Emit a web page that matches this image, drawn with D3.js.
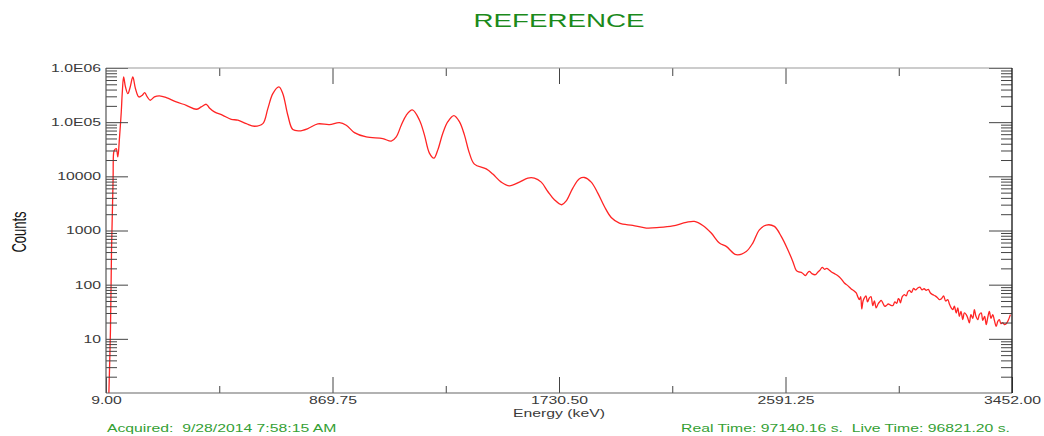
<!DOCTYPE html>
<html>
<head>
<meta charset="utf-8">
<script src="https://cdn.jsdelivr.net/npm/d3@7/dist/d3.min.js"></script>
<style>
  html, body { margin: 0; padding: 0; background: #fff; }
  svg { display: block; font-family: "Liberation Sans", Arial, sans-serif; }
</style>
</head>
<body>
<svg id="chart" width="1044" height="436"></svg>
<script>
// Gamma spectrum: energy (keV) vs counts per channel
const energyKeV = [20, 26, 30, 34, 36, 38, 41, 48, 54, 60, 67, 71, 76, 83, 92, 101, 111, 121, 134, 147,
  156, 166, 177, 193, 212, 238, 276, 314, 352, 371, 390, 402, 421, 453, 485, 510, 542, 573, 605, 624,
  643, 666, 681, 700, 719, 744, 776, 814, 858, 896, 922, 953, 998, 1061, 1093, 1112, 1131, 1150, 1173, 1200,
  1219, 1238, 1255, 1270, 1289, 1308, 1331, 1352, 1371, 1390, 1409, 1454, 1479, 1511, 1542, 1580, 1612, 1637, 1663, 1688,
  1713, 1741, 1758, 1783, 1808, 1827, 1853, 1878, 1903, 1929, 1960, 2011, 2062, 2112, 2163, 2214, 2245, 2277, 2309, 2340,
  2366, 2404, 2442, 2467, 2492, 2518, 2549, 2575, 2600, 2619, 2632,
  2642, 2651, 2659, 2667, 2675, 2682, 2693, 2705, 2714, 2722, 2731, 2740, 2748, 2756, 2766, 2777, 2785, 2796, 2805, 2815,
  2828, 2841, 2850, 2860, 2866, 2872, 2877, 2881, 2886, 2891, 2897, 2903, 2910, 2916, 2923, 2929, 2936, 2943, 2949, 2955,
  2962, 2968, 2974, 2982, 2990, 2999, 3007, 3014, 3020, 3024, 3028, 3035, 3043, 3050, 3056, 3062, 3070, 3078, 3086, 3094,
  3102, 3110, 3118, 3126, 3134, 3142, 3151, 3160, 3168, 3176, 3184, 3192, 3200, 3208, 3214, 3220, 3227, 3233, 3240, 3246,
  3252, 3258, 3265, 3271, 3278, 3284, 3290, 3296, 3303, 3309, 3315, 3322, 3328, 3335, 3341, 3348, 3354, 3360, 3366, 3372,
  3379, 3385, 3392, 3398, 3404, 3410, 3417, 3423, 3430, 3436, 3446];

const counts = [1, 15, 440, 3240, 9300, 27000, 30400, 32500, 22900, 49700, 154000, 361000, 682000, 447000, 336000, 447000, 682000, 415000, 292000, 314000,
  351000, 292000, 254000, 292000, 305000, 284000, 236000, 205000, 173000, 191000, 214000, 183000, 155000, 134000, 113000, 109000, 94000, 84100, 94000, 178000,
  336000, 447000, 336000, 134000, 72900, 69000, 76000, 92900, 90200, 98200, 87900, 64200, 53400, 49700, 44600, 53400, 87900, 134000, 168000, 110000,
  58200, 26800, 21600, 30800, 62500, 102000, 132000, 102000, 58200, 26800, 16800, 13700, 11000, 7820, 6680, 7820, 9270, 9270, 7820, 5250,
  3690, 2990, 3530, 6060, 9000, 9510, 7820, 4900, 2770, 1740, 1370, 1240, 1110, 1140, 1220, 1410, 1470, 1240, 898, 587,
  509, 357, 411, 587, 1030, 1260, 1190, 777, 442, 269, 184,
  172, 169, 158, 147, 165, 176, 158, 153, 170, 185, 208, 192, 200, 189, 172, 160, 152, 139, 124, 107,
  96, 83.3, 78, 70.3, 60, 52.9, 60, 35.7, 50, 56.9, 62, 48, 56.9, 60, 41, 50, 37.2, 44, 48, 51.4,
  45, 40, 41, 44, 42, 41, 48, 45, 55, 52.9, 46, 60, 65.4, 62, 74, 78.6, 72, 85, 80, 86.9,
  90, 80, 84, 78.6, 82, 70, 65.4, 62, 58, 52.9, 55, 62, 50, 52.9, 44, 38, 34.6, 40, 30, 37.2,
  26, 32, 22.6, 30, 28, 24, 19.7, 28, 24, 34.6, 26, 22.6, 28, 30.1, 22, 26, 18.3, 25, 32.2, 24,
  28, 22, 17, 21, 22.6, 19, 20, 18.3, 19, 21.1, 28];

const xMajorTicks = [9, 869.75, 1730.5, 2591.25, 3452];
const xMinorTicks = [439.375, 1300.125, 2160.875, 3021.625];
const yMajorTicks = [10, 100, 1000, 10000, 100000, 1000000];
const yTickLabels = ["10", "100", "1000", "10000", "1.0E05", "1.0E06"];

const titleText = "REFERENCE";
const xTitle = "Energy (keV)";
const yTitle = "Counts";
const acquiredText = "Acquired:  9/28/2014 7:58:15 AM";
const timeText = "Real Time: 97140.16 s.  Live Time: 96821.20 s.";

// ---- layout ----
const plot = { left: 106, right: 1012, top: 68, bottom: 393 };
const STRETCH = 1.5;        // wide, horizontally stretched lettering
const tickColor = "#444";
const labelColor = "#3a3a3a";

const svg = d3.select("#chart");

const x = d3.scaleLinear().domain([9, 3452]).range([plot.left, plot.right]);
const y = d3.scaleLog().domain([1, 1e6]).range([plot.bottom, plot.top]);

// minor log ticks 2..9 inside each decade
const yMinorTicks = [];
for (let d = 1; d < 1e6; d *= 10) for (let k = 2; k <= 9; k++) yMinorTicks.push(d * k);

// turn positioned text into a stretched one
function stretchText(sel) {
  sel.each(function () {
    const t = d3.select(this);
    const tx = +t.attr("x") || 0, ty = +t.attr("y") || 0;
    t.attr("x", 0).attr("y", 0)
     .attr("transform", `translate(${tx},${ty}) scale(${STRETCH},1)`);
  });
}

function styleAxis(g) {
  g.select(".domain").remove();
  g.selectAll(".tick line").attr("stroke", tickColor).attr("stroke-width", 1);
}

// ---- curve ----
const data = d3.zip(energyKeV, counts);

svg.append("clipPath").attr("id", "plotClip")
  .append("rect")
  .attr("x", plot.left).attr("y", plot.top)
  .attr("width", plot.right - plot.left).attr("height", plot.bottom - plot.top);

const line = d3.line()
  .x(d => x(d[0]))
  .y(d => y(Math.max(d[1], 0.5)))
  .curve(d3.curveCatmullRom.alpha(0.5));

svg.append("path")
  .datum(data)
  .attr("clip-path", "url(#plotClip)")
  .attr("fill", "none")
  .attr("stroke", "#ff2424")
  .attr("stroke-width", 1.3)
  .attr("stroke-linejoin", "round")
  .attr("d", line);

// ---- x axes (bottom with labels, top mirrored) ----
const gxMinor = svg.append("g").attr("transform", `translate(0,${plot.bottom})`)
  .call(d3.axisBottom(x).tickValues(xMinorTicks).tickSizeInner(-7).tickSizeOuter(0).tickFormat(""));
styleAxis(gxMinor);

const gx = svg.append("g").attr("transform", `translate(0,${plot.bottom})`)
  .call(d3.axisBottom(x).tickValues(xMajorTicks).tickSizeInner(-16).tickSizeOuter(0)
    .tickPadding(4).tickFormat(d3.format(".2f")));
styleAxis(gx);
gx.selectAll(".tick text").attr("font-size", 10.5).attr("fill", labelColor)
  .attr("font-family", "Liberation Sans, Arial, sans-serif").call(stretchText);

const gxTopMinor = svg.append("g").attr("transform", `translate(0,${plot.top})`)
  .call(d3.axisTop(x).tickValues(xMinorTicks).tickSizeInner(-8).tickSizeOuter(0).tickFormat(""));
styleAxis(gxTopMinor);
const gxTop = svg.append("g").attr("transform", `translate(0,${plot.top})`)
  .call(d3.axisTop(x).tickValues(xMajorTicks.slice(1, -1)).tickSizeInner(-16).tickSizeOuter(0).tickFormat(""));
styleAxis(gxTop);

// ---- y axes (left with labels, right mirrored) ----
const gyMinor = svg.append("g").attr("transform", `translate(${plot.left},0)`)
  .call(d3.axisLeft(y).tickValues(yMinorTicks).tickSizeInner(-11).tickSizeOuter(0).tickFormat(""));
styleAxis(gyMinor);

const gy = svg.append("g").attr("transform", `translate(${plot.left},0)`)
  .call(d3.axisLeft(y).tickValues(yMajorTicks).tickSizeInner(-22).tickSizeOuter(0)
    .tickPadding(5).tickFormat((d, i) => yTickLabels[i]));
styleAxis(gy);
gy.selectAll(".tick text").attr("font-size", 10.5).attr("fill", labelColor)
  .attr("font-family", "Liberation Sans, Arial, sans-serif").call(stretchText);

const gyRMinor = svg.append("g").attr("transform", `translate(${plot.right},0)`)
  .call(d3.axisRight(y).tickValues(yMinorTicks).tickSizeInner(-11).tickSizeOuter(0).tickFormat(""));
styleAxis(gyRMinor);
const gyR = svg.append("g").attr("transform", `translate(${plot.right},0)`)
  .call(d3.axisRight(y).tickValues(yMajorTicks).tickSizeInner(-23).tickSizeOuter(0).tickFormat(""));
styleAxis(gyR);

// ---- frame ----
svg.append("line").attr("x1", plot.left).attr("x2", plot.right).attr("y1", plot.top).attr("y2", plot.top)
  .attr("stroke", "#9a9a9a").attr("stroke-width", 1.2);
svg.append("line").attr("x1", plot.left).attr("x2", plot.right).attr("y1", plot.bottom).attr("y2", plot.bottom)
  .attr("stroke", "#666").attr("stroke-width", 1.2);
svg.append("line").attr("x1", plot.left).attr("x2", plot.left).attr("y1", plot.top).attr("y2", plot.bottom)
  .attr("stroke", "#555").attr("stroke-width", 1.2);
svg.append("line").attr("x1", plot.right).attr("x2", plot.right).attr("y1", plot.top).attr("y2", plot.bottom)
  .attr("stroke", "#222").attr("stroke-width", 1.4);

// ---- titles and footer ----
svg.append("text").text(titleText)
  .attr("x", (plot.left + plot.right) / 2).attr("y", 26.5)
  .attr("text-anchor", "middle").attr("font-size", 18.5).attr("fill", "#1b8a1b")
  .call(stretchText);

svg.append("text").text(xTitle)
  .attr("x", (plot.left + plot.right) / 2).attr("y", 417)
  .attr("text-anchor", "middle").attr("font-size", 10.5).attr("fill", labelColor)
  .call(stretchText);

svg.append("text").text(yTitle)
  .attr("text-anchor", "middle").attr("font-size", 13).attr("fill", "#151515")
  .attr("dy", "0.36em")
  .attr("transform", `translate(19,232) scale(${STRETCH},1) rotate(-90)`);

svg.append("text").text(acquiredText)
  .attr("x", 107).attr("y", 431.5)
  .attr("font-size", 10.5).attr("fill", "#34a034")
  .style("white-space", "pre")
  .call(stretchText);

svg.append("text").text(timeText)
  .attr("x", 1010).attr("y", 431.5)
  .attr("text-anchor", "end").attr("font-size", 10.5).attr("fill", "#34a034")
  .style("white-space", "pre")
  .call(stretchText);
</script>
</body>
</html>
